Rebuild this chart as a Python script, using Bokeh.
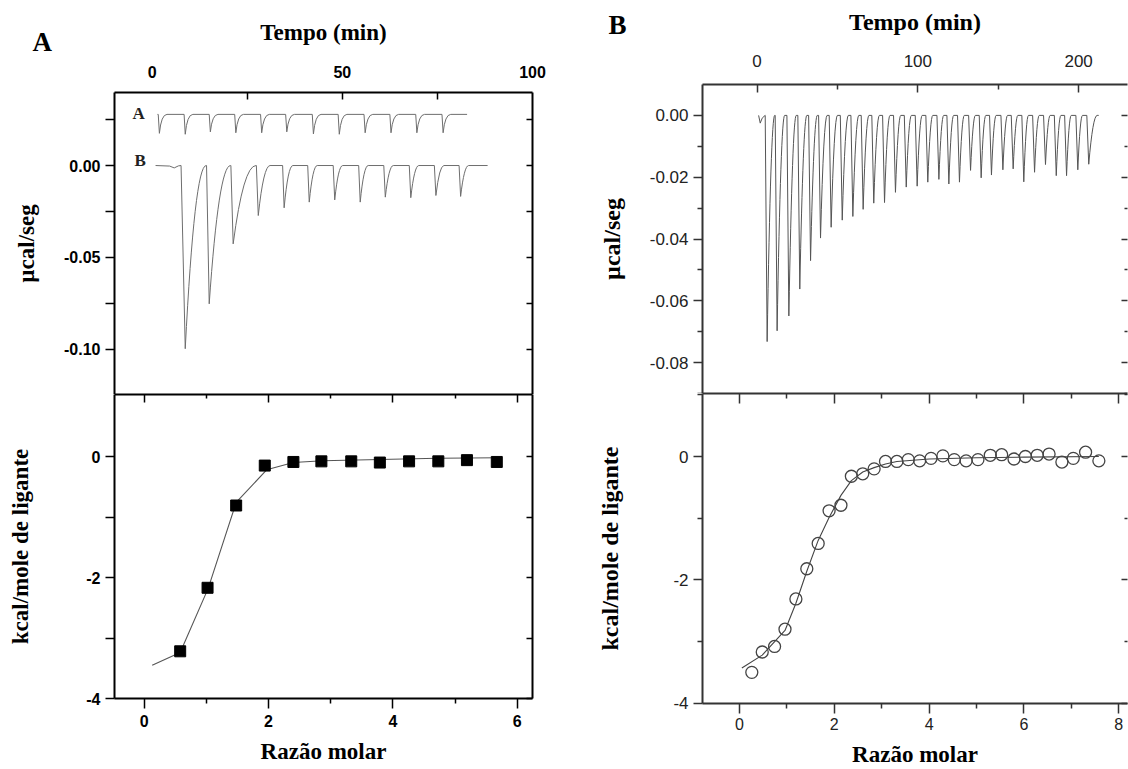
from bokeh.plotting import figure
from bokeh.models import Range1d, LinearAxis, FixedTicker, Label, NumeralTickFormatter
from bokeh.layouts import row, column
from bokeh.embed import file_html
from bokeh.resources import INLINE

# ------------------------------------------------------------------ data
# Panel A, upper plot: thermograms (ucal/s vs time, min)
# trace "A" (blank titration, drawn offset above the sample trace)
a_blank_base = 0.0278
a_blank_span = [1.4, 82.8]
a_blank_t_start = [1.6, 8.4, 15.0, 21.7, 28.5, 35.1, 42.1, 48.9, 55.7, 62.5, 69.3, 76.2]
a_blank_t_min = [1.9, 8.7, 15.3, 22.0, 28.8, 35.4, 42.4, 49.2, 56.0, 62.8, 69.6, 76.5]
a_blank_peak = [0.0175, 0.0170, 0.0183, 0.0178, 0.0178, 0.0183, 0.0172, 0.0170, 0.0178, 0.0178, 0.0178, 0.0178]
a_blank_t_end = [3.9, 10.7, 17.3, 24.0, 30.8, 37.4, 44.4, 51.2, 58.0, 64.8, 71.6, 78.5]
# trace "B" (sample titration)
a_samp_base = 0.0
a_samp_span = [0.9, 88.2]
a_samp_pre_t = [0.9, 4.6, 5.8, 6.9, 7.6]
a_samp_pre_y = [0.0, -0.0003, -0.0013, -0.0002, 0.0]
a_samp_t_start = [7.6, 14.3, 20.7, 27.4, 34.3, 40.9, 47.6, 54.3, 60.9, 67.6, 74.2, 80.7]
a_samp_t_min = [8.7, 15.0, 21.3, 27.9, 34.7, 41.3, 48.0, 54.7, 61.3, 68.0, 74.6, 81.1]
a_samp_peak = [-0.0996, -0.0752, -0.0426, -0.0272, -0.0230, -0.0199, -0.0187, -0.0199,
               -0.0172, -0.0175, -0.0163, -0.0168]
a_samp_t_end = [14.2, 20.6, 27.3, 31.0, 37.0, 43.4, 50.1, 56.8, 63.4, 70.1, 76.7, 83.2]

# Panel A, lower plot: integrated heats
a_ratio = [0.58, 1.02, 1.48, 1.94, 2.40, 2.85, 3.33, 3.79, 4.26, 4.73, 5.19, 5.67]
a_heat = [-3.22, -2.17, -0.81, -0.15, -0.09, -0.08, -0.08, -0.10, -0.08, -0.08, -0.06, -0.09]
a_fit_x = [0.13, 0.58, 1.03, 1.48, 1.97, 2.40, 2.87, 3.79, 4.72, 5.70]
a_fit_y = [-3.45, -3.24, -2.18, -0.76, -0.22, -0.10, -0.07, -0.05, -0.03, -0.02]

# Panel B, upper plot: thermogram
b_base = 0.0
b_span = [1.0, 212.5]
b_pre_t = [1.0, 2.0, 3.2, 4.4, 5.1]
b_pre_y = [0.0, -0.0025, -0.0009, -0.0003, 0.0]
b_t_start = [5.1, 11.3, 18.6, 25.4, 32.1, 38.3, 44.9, 51.8, 58.4, 64.8, 71.4, 78.1, 84.9, 91.6,
             98.4, 105.0, 111.9, 118.1, 124.7, 131.6, 138.2, 144.6, 151.7, 158.1, 164.7, 171.4,
             178.2, 184.9, 191.3, 198.3, 205.1]
b_t_min = [6.3, 12.5, 19.8, 26.6, 33.3, 39.5, 46.1, 53.0, 59.6, 66.0, 72.6, 79.3, 86.1, 92.8,
           99.6, 106.2, 113.1, 119.3, 125.9, 132.8, 139.4, 145.8, 152.9, 159.3, 165.9, 172.6,
           179.4, 186.1, 192.5, 199.5, 206.3]
b_peak = [-0.0732, -0.0697, -0.0649, -0.0562, -0.0470, -0.0397, -0.0362, -0.0339, -0.0327,
          -0.0304, -0.0284, -0.0282, -0.0249, -0.0232, -0.0229, -0.0216, -0.0207, -0.0222,
          -0.0216, -0.0178, -0.0202, -0.0193, -0.0176, -0.0173, -0.0215, -0.0184, -0.0159,
          -0.0195, -0.0195, -0.0176, -0.0158]
b_t_end = [11.0, 17.2, 24.4, 31.0, 37.5, 43.6, 50.0, 56.8, 63.3, 69.6, 76.1, 82.7, 89.4, 96.0,
           102.7, 109.3, 116.1, 122.3, 128.9, 135.8, 142.3, 148.7, 155.8, 162.2, 168.8, 175.5,
           182.3, 189.0, 195.4, 202.4, 211.5]

# Panel B, lower plot: integrated heats
b_ratio = [0.26, 0.48, 0.74, 0.96, 1.19, 1.42, 1.66, 1.89, 2.14, 2.36, 2.60, 2.84, 3.08, 3.32,
           3.56, 3.80, 4.04, 4.29, 4.53, 4.78, 5.03, 5.29, 5.53, 5.79, 6.03, 6.28, 6.53, 6.80,
           7.04, 7.30, 7.58]
b_heat = [-3.50, -3.17, -3.08, -2.80, -2.31, -1.82, -1.41, -0.88, -0.79, -0.32, -0.28, -0.20,
          -0.08, -0.08, -0.05, -0.07, -0.03, 0.01, -0.05, -0.07, -0.05, 0.02, 0.03, -0.04,
          0.00, 0.02, 0.04, -0.09, -0.03, 0.07, -0.07]
b_fit_x = [0.05, 0.48, 0.96, 1.19, 1.42, 1.66, 1.89, 2.14, 2.36, 2.60, 2.84, 3.08, 3.32, 4.0,
           5.0, 6.0, 7.58]
b_fit_y = [-3.43, -3.22, -2.82, -2.38, -1.86, -1.36, -0.99, -0.63, -0.39, -0.25, -0.18, -0.12,
           -0.08, -0.04, -0.02, -0.01, 0.0]

# axis ticks
a_time_labels = [0, 50, 100]
a_time_marks = [25, 50, 75]
a_ucal_ticks = [0.0, -0.05, -0.10]
a_ucal_minor = [0.025, -0.025, -0.075]
a_kcal_ticks = [0, -2, -4]
a_kcal_minor = [-1, -3]
a_ratio_ticks = [0, 2, 4, 6]
a_ratio_minor = [1, 3, 5]
b_time_ticks = [0, 100, 200]
b_time_minor = [50, 150]
b_ucal_ticks = [0.0, -0.02, -0.04, -0.06, -0.08]
b_ucal_minor = [-0.01, -0.03, -0.05, -0.07, -0.09]
b_kcal_ticks = [0, -2, -4]
b_kcal_minor = [1, -1, -3]
b_ratio_ticks = [0, 2, 4, 6, 8]
b_ratio_minor = [1, 3, 5, 7]

NAN = float("nan")
SERIF = "Liberation Serif"
SANS = "Liberation Sans"


def trace_paths(span, pre_t, pre_y, t_start, t_min, peak, t_end, base):
    xs = list(pre_t) if pre_t else [span[0]]
    ys = list(pre_y) if pre_y else [base]
    for i in range(len(t_min)):
        if i > 0:
            xs += [NAN, t_end[i - 1]]
            ys += [NAN, base]
        xs += [t_start[i], t_min[i]]
        ys += [base, peak[i]]
    xs += [NAN, t_end[-1], span[1]]
    ys += [NAN, base, base]
    return xs, ys


def draw_trace(p, span, pre_t, pre_y, t_start, t_min, peak, t_end, base, curv, color, width):
    xs, ys = trace_paths(span, pre_t, pre_y, t_start, t_min, peak, t_end, base)
    p.line(xs, ys, line_color=color, line_width=width)
    cx = [tm + curv * (te - tm) for tm, te in zip(t_min, t_end)]
    p.quadratic(x0=t_min, y0=peak, x1=t_end, y1=[base] * len(t_min),
                cx=cx, cy=[base] * len(t_min), line_color=color, line_width=width)


def make_axis(ticks, minor, tin=0, tout=0, min_in=0, min_out=0, fmt=None, label=None,
              label_standoff=10, std=5, font_size="16px", font_style="bold", title_size="23px",
              color="black", line_color="black", text_color="black"):
    ax = LinearAxis(ticker=FixedTicker(ticks=ticks, minor_ticks=minor))
    ax.major_tick_in = tin
    ax.major_tick_out = tout
    ax.minor_tick_in = min_in
    ax.minor_tick_out = min_out
    ax.major_tick_line_color = color
    ax.minor_tick_line_color = color
    ax.major_tick_line_width = 1.5
    ax.minor_tick_line_width = 1.5
    ax.axis_line_color = line_color
    ax.axis_line_width = 2
    if fmt is not None:
        ax.formatter = fmt
    ax.major_label_text_font = SANS
    ax.major_label_text_font_size = font_size
    ax.major_label_text_font_style = font_style
    ax.major_label_text_color = text_color
    ax.major_label_standoff = std
    if label:
        ax.axis_label = label
        ax.axis_label_text_font = SERIF
        ax.axis_label_text_font_style = "bold"
        ax.axis_label_text_font_size = title_size
        ax.axis_label_text_color = "black"
        ax.axis_label_standoff = label_standoff
    return ax


def tick_only(p, side, major, minor, len_major, len_minor, color="black", line_color="black"):
    """Unlabelled inward ticks: drawn as minor ticks so that no label text is produced."""
    for marks, length, lc in ((major, len_major, line_color), (minor, len_minor, None)):
        ax = LinearAxis(ticker=FixedTicker(ticks=[], minor_ticks=marks))
        ax.major_tick_in = 0
        ax.major_tick_out = 0
        ax.minor_tick_in = length
        ax.minor_tick_out = 0
        ax.minor_tick_line_color = color
        ax.minor_tick_line_width = 1.5
        ax.axis_line_color = lc
        ax.axis_line_width = 2
        ax.major_label_standoff = 0
        p.add_layout(ax, side)


def base_fig(w, h, xr, yr, bl, br, bt, bb):
    p = figure(width=w, height=h, x_range=xr, y_range=yr, x_axis_type=None, y_axis_type=None,
               output_backend="svg", toolbar_location=None, min_border_left=bl,
               min_border_right=br, min_border_top=bt, min_border_bottom=bb)
    p.outline_line_color = None
    p.background_fill_color = "white"
    p.border_fill_color = "white"
    return p


def panel_letter(p, side, text, x, y):
    # placed in a side panel so that it is not clipped to the plot frame
    p.add_layout(Label(x=x, y=y, x_units="screen", y_units="screen", text=text,
                       text_font=SERIF, text_font_style="bold", text_font_size="27px",
                       text_color="black", text_align="left", text_baseline="alphabetic"), side)


WA = 577   # width of panel A figures
WB = 1128 - WA
AR = WA - 532   # right border of panel A

# ------------------------------------------------------------------ panel A, top
pa1 = base_fig(WA, 394, Range1d(-9.9, 100.0), Range1d(-0.1245, 0.0397), 114, AR, 92, 0)
pa1.add_layout(make_axis(a_ucal_ticks, a_ucal_minor, tout=9, min_out=9,
                         fmt=NumeralTickFormatter(format="0.00"), label="µcal/seg",
                         label_standoff=22), "left")
pa1.add_layout(make_axis(a_time_labels, a_time_marks, tin=0, min_in=7, std=15,
                         label="Tempo (min)", label_standoff=18), "above")
tick_only(pa1, "right", a_ucal_ticks, a_ucal_minor, 6, 6)
tick_only(pa1, "below", [], [], 0, 0)
panel_letter(pa1, "right", "A", 32 - 532, 353)
draw_trace(pa1, a_blank_span, None, None, a_blank_t_start, a_blank_t_min, a_blank_peak,
           a_blank_t_end, a_blank_base, 0.25, "#6e6e6e", 1.0)
draw_trace(pa1, a_samp_span, a_samp_pre_t, a_samp_pre_y, a_samp_t_start, a_samp_t_min,
           a_samp_peak, a_samp_t_end, a_samp_base, 0.45, "#6e6e6e", 1.0)
pa1.add_layout(Label(x=a_blank_span[0], y=a_blank_base, x_offset=-25, y_offset=1, text="A",
                     text_font=SERIF, text_font_style="bold", text_font_size="17px",
                     text_color="#222222", text_baseline="middle", text_align="left"))
pa1.add_layout(Label(x=a_samp_span[0], y=a_samp_base, x_offset=-21, y_offset=5, text="B",
                     text_font=SERIF, text_font_style="bold", text_font_size="17px",
                     text_color="#222222", text_baseline="middle", text_align="left"))

# ------------------------------------------------------------------ panel A, bottom
pa2 = base_fig(WA, 375, Range1d(-0.476, 6.244), Range1d(-4.0, 1.025), 114, AR, 0, 71)
pa2.add_layout(make_axis(a_kcal_ticks, a_kcal_minor, tout=9, min_out=9,
                         fmt=NumeralTickFormatter(format="0"),
                         label="kcal/mole de ligante", label_standoff=50), "left")
pa2.add_layout(make_axis(a_ratio_ticks, a_ratio_minor, tout=10, min_out=5, std=6,
                         fmt=NumeralTickFormatter(format="0"),
                         label="Razão molar", label_standoff=9), "below")
tick_only(pa2, "above", a_ratio_ticks, a_ratio_minor, 8, 4)
tick_only(pa2, "right", a_kcal_ticks, a_kcal_minor, 6, 6)
pa2.line(a_fit_x, a_fit_y, line_color="#555555", line_width=1.1)
pa2.scatter(a_ratio, a_heat, marker="square", size=11, fill_color="black", line_color="black")

# ------------------------------------------------------------------ panel B, top
BC = "#333333"
TC = "#222222"
BL = 702 - WA
pb1 = base_fig(WB, 393, Range1d(-33.9, 230.4), Range1d(-0.0900, 0.0100), BL, 1, 84, 0)
pb1.add_layout(make_axis(b_ucal_ticks, b_ucal_minor, tout=9, min_out=5,
                         fmt=NumeralTickFormatter(format="0.00"), label="µcal/seg",
                         label_standoff=22, font_size="17px", font_style="normal",
                         title_size="24px", color=BC, line_color=BC, text_color=TC), "left")
panel_letter(pb1, "left", "B", 31, 369)
pb1.add_layout(make_axis(b_time_ticks, b_time_minor, tin=8, min_in=5, std=18,
                         label="Tempo (min)", label_standoff=17, font_size="17px",
                         font_style="normal", title_size="24px", color=BC, line_color=BC,
                         text_color=TC), "above")
tick_only(pb1, "right", b_ucal_ticks, b_ucal_minor, 6, 3, color=BC, line_color=None)
tick_only(pb1, "below", [], [], 0, 0, color=BC, line_color=BC)
draw_trace(pb1, b_span, b_pre_t, b_pre_y, b_t_start, b_t_min, b_peak, b_t_end, b_base,
           0.5, "#555555", 1.0)

# ------------------------------------------------------------------ panel B, bottom
pb2 = base_fig(WB, 376, Range1d(-0.780, 8.184), Range1d(-4.005, 1.022), BL, 1, 0, 66)
pb2.add_layout(make_axis(b_kcal_ticks, b_kcal_minor, tout=9, min_out=5,
                         fmt=NumeralTickFormatter(format="0"),
                         label="kcal/mole de ligante", label_standoff=47, font_size="17px",
                         font_style="normal", title_size="24px", color=BC, line_color=BC,
                         text_color=TC), "left")
pb2.add_layout(make_axis(b_ratio_ticks, b_ratio_minor, tout=10, min_out=5, std=4,
                         fmt=NumeralTickFormatter(format="0"),
                         label="Razão molar", label_standoff=9, font_size="16px",
                         font_style="normal", title_size="23px", color=BC, line_color=BC,
                         text_color=TC), "below")
tick_only(pb2, "above", b_ratio_ticks, b_ratio_minor, 10, 5, color=BC, line_color=BC)
tick_only(pb2, "right", b_kcal_ticks, b_kcal_minor, 6, 3, color=BC, line_color=None)
pb2.line(b_fit_x, b_fit_y, line_color="#444444", line_width=1.1)
pb2.scatter(b_ratio, b_heat, marker="circle", size=12, fill_color=None, line_color="#444444",
            line_width=1.3)

layout = row(column(pa1, pa2, spacing=0), column(pb1, pb2, spacing=0), spacing=0)

open("out.html", "w").write(file_html(layout, INLINE))
